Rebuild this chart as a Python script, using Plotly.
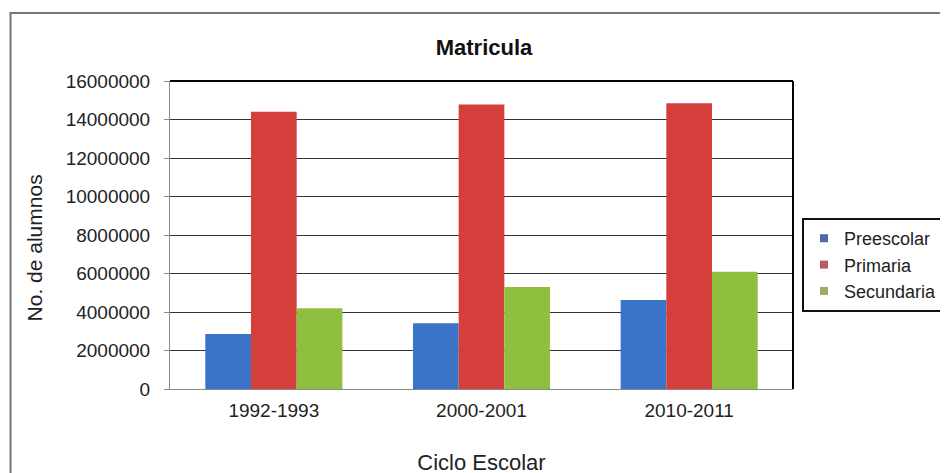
import plotly.graph_objects as go

categories = ["1992-1993", "2000-2001", "2010-2011"]
preescolar = [2860000, 3420000, 4620000]
primaria = [14400000, 14780000, 14840000]
secundaria = [4200000, 5300000, 6090000]
series_names = ["Preescolar", "Primaria", "Secundaria"]
colors = ["#3a74c9", "#d43f3c", "#8fbf3f"]
legend_colors = ["#4f6aa8", "#b85a5e", "#9aae6a"]
y_ticks = [0, 2000000, 4000000, 6000000, 8000000, 10000000, 12000000, 14000000, 16000000]

fig = go.Figure()
for name, vals, col in zip(series_names, [preescolar, primaria, secundaria], colors):
    fig.add_trace(go.Bar(x=categories, y=vals, name=name, showlegend=False,
                         marker=dict(color=col, line=dict(width=0))))
for name, col in zip(series_names, legend_colors):
    fig.add_trace(go.Scatter(x=[None], y=[None], mode="markers", name=name,
                             marker=dict(symbol="square", size=8, color=col)))

# the page body adds an 8px offset; margins compensate for it
L, T, PW, PH = 162, 73, 625, 308
fig.update_layout(
    width=948, height=473,
    margin=dict(l=L, r=948 - L - PW, t=T, b=473 - T - PH),
    paper_bgcolor="white", plot_bgcolor="white",
    barmode="group", bargap=0.34, bargroupgap=0,
    font=dict(family="Liberation Sans, Arial", color="#222"),
    title=dict(text="<b>Matricula</b>", x=(484 - 8) / 948, xanchor="center", y=1 - (47 - 8) / 473, yanchor="middle",
               font=dict(size=22, color="#111")),
    legend=dict(x=(804 - 170) / PW, xanchor="left", y=(389 - 218) / PH, yanchor="top",
                bordercolor="#111", borderwidth=2, bgcolor="white",
                font=dict(size=18, color="#222"), itemwidth=30, tracegroupgap=0),
    showlegend=True,
)
fig.update_xaxes(showline=True, linecolor="#888", linewidth=1, mirror=False, ticks="",
                 tickfont=dict(size=19, color="#222"), ticklabelstandoff=4,
                 title=dict(text="Ciclo Escolar", font=dict(size=22, color="#222"), standoff=34))
fig.update_yaxes(range=[0, 16000000], tickvals=y_ticks, ticktext=[str(v) for v in y_ticks],
                 showgrid=True, gridcolor="#333", gridwidth=1,
                 showline=True, linecolor="#888", linewidth=1, ticks="outside", ticklen=5, tickcolor="#888",
                 tickfont=dict(size=19, color="#222"), ticklabelstandoff=10,
                 zeroline=False)

# y-axis title placed like the reference (slightly below plot centre)
fig.add_annotation(text="No. de alumnos", xref="paper", yref="paper",
                   x=(35 - 170) / PW, y=(389 - 248) / PH, xanchor="center", yanchor="middle",
                   textangle=-90, showarrow=False, font=dict(size=21, color="#222"))

# black top and right plot border
fig.add_shape(type="line", xref="paper", yref="paper", x0=0, x1=1, y0=1, y1=1, line=dict(color="#000", width=2))
fig.add_shape(type="line", xref="paper", yref="paper", x0=1, x1=1, y0=0, y1=1, line=dict(color="#000", width=2))
# outer chart frame
fig.add_shape(type="rect", xref="paper", yref="paper",
              x0=(2 - L) / PW, x1=2.0, y0=-0.6, y1=(T + PH - 5) / PH,
              line=dict(color="#777", width=2), layer="below")

fig.write_html("out.html")
